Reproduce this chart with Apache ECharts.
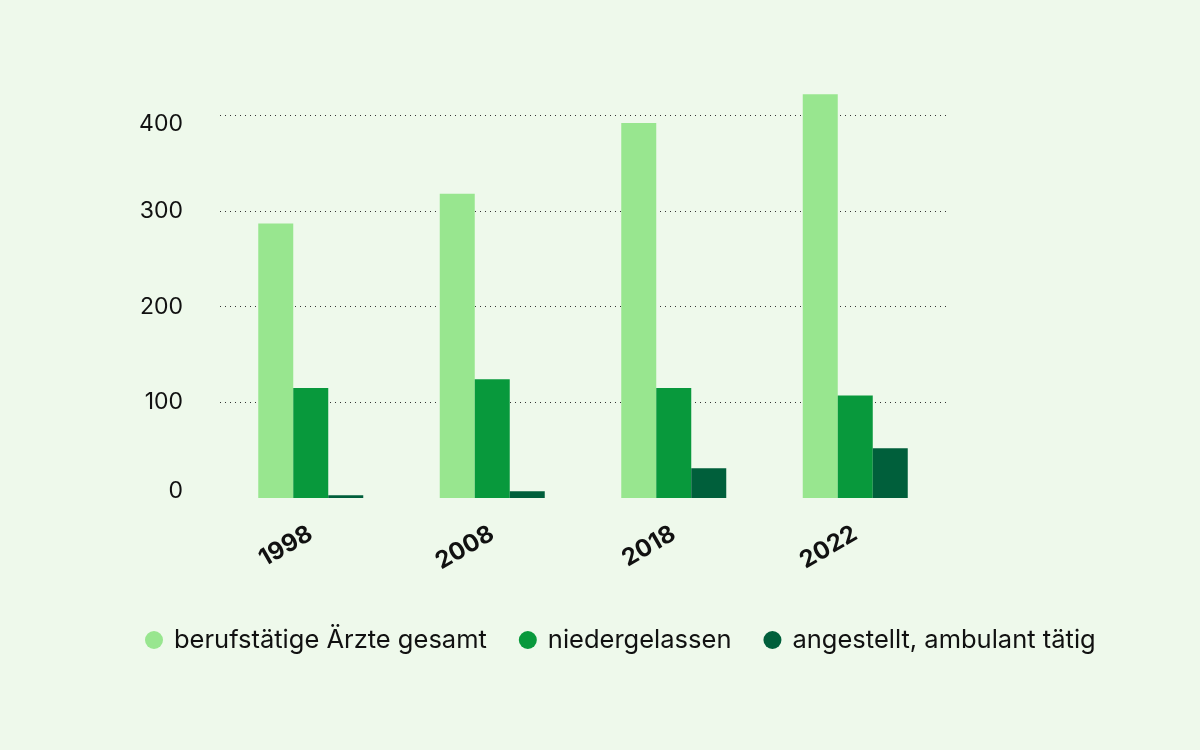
<!DOCTYPE html>
<html>
<head>
<meta charset="utf-8">
<script src="https://cdn.jsdelivr.net/npm/echarts@6/dist/echarts.min.js"></script>
<style>
html,body{margin:0;padding:0;background:#eef9eb;}
#c{width:1200px;height:750px;}
</style>
</head>
<body>
<div id="c"></div>
<script>
const years = ['1998', '2008', '2018', '2022'];
const seriesNames = ['berufstätige Ärzte gesamt', 'niedergelassen', 'angestellt, ambulant tätig'];
const gesamt = [287, 318, 392, 422];
const niedergelassen = [115, 124, 115, 107];
const angestellt = [3, 7, 31, 52];
const yTicks = [0, 100, 200, 300, 400];

const colors = ['#98e68f', '#08993c', '#005f3b'];
const font = 'Inter, "Noto Sans", sans-serif';
const chart = echarts.init(document.getElementById('c'));
const data = [gesamt, niedergelassen, angestellt];
chart.setOption({
  backgroundColor: '#eef9eb',
  color: colors,
  animation: false,
  grid: {left: 220, right: 254, top: 77, bottom: 252},
  legend: {
    bottom: 92, left: 140,
    icon: 'circle', itemWidth: 18, itemHeight: 18, itemGap: 32,
    textStyle: {fontFamily: font, fontSize: 25.5, color: '#111', padding: [0, 0, 0, 6]},
    data: seriesNames
  },
  xAxis: {
    type: 'category', data: years,
    axisLine: {show: false}, axisTick: {show: false},
    axisLabel: {rotate: 30, margin: 34, fontFamily: font, fontSize: 24, fontWeight: 'bold', color: '#111'}
  },
  yAxis: {
    type: 'value', min: 0, max: 440, interval: 100,
    axisLine: {show: false}, axisTick: {show: false},
    axisLabel: {
      showMaxLabel: false, margin: 37, fontFamily: font, fontSize: 23, color: '#111',
      formatter: v => {
        if (!yTicks.includes(v)) return '';
        if (v === 0) return '{up|' + v + '}';
        if (v === 400) return '{down|' + v + '}';
        return String(v);
      },
      rich: {
        up: {fontFamily: font, fontSize: 23, color: '#111', padding: [0, 0, 14, 0]},
        down: {fontFamily: font, fontSize: 23, color: '#111', padding: [18, 0, 0, 0]}
      }
    },
    splitLine: {show: true, showMinLine: false, showMaxLine: false, lineStyle: {type: [1, 4], color: '#333', width: 1.2}}
  },
  series: seriesNames.map((n, i) => ({
    name: n, type: 'bar', data: data[i], barWidth: 35, barGap: '0%',
    itemStyle: {color: colors[i]}
  }))
});
</script>
</body>
</html>
